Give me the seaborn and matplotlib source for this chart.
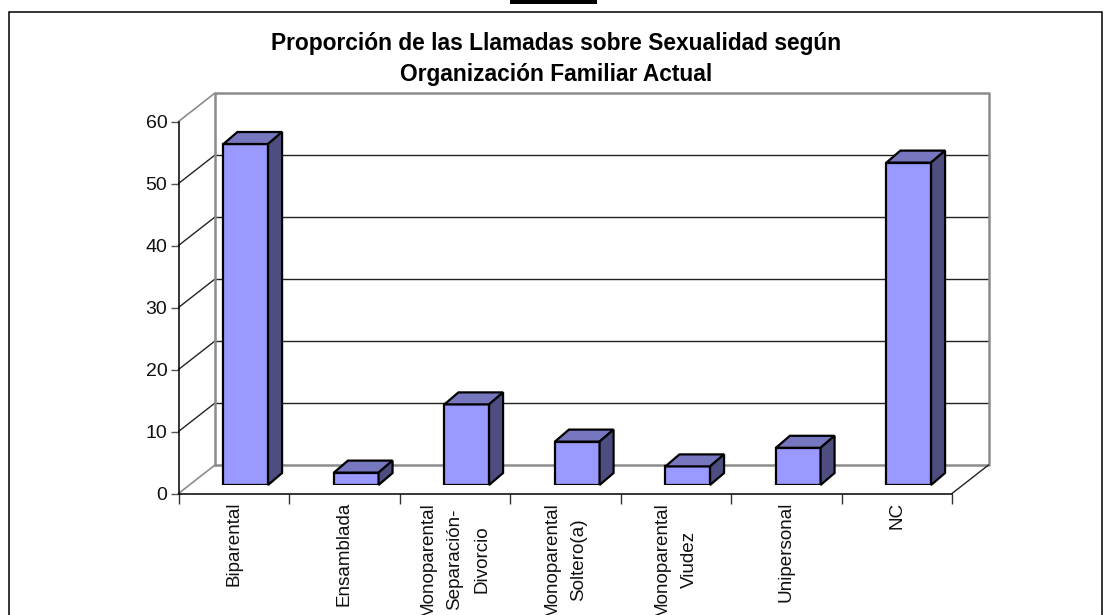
import matplotlib
matplotlib.use('Agg')
import matplotlib.pyplot as plt
from matplotlib.patches import Polygon, Rectangle
import pandas as pd
import seaborn as sns

categories = ['Biparental', 'Ensamblada', 'Monoparental\nSeparación-\nDivorcio',
              'Monoparental\nSoltero(a)', 'Monoparental\nViudez', 'Unipersonal', 'NC']
values = [55, 2, 13, 7, 3, 6, 52]
y_ticks = [0, 10, 20, 30, 40, 50, 60]
title = 'Proporción de las Llamadas sobre Sexualidad según\nOrganización Familiar Actual'

W, H = 1110, 615
FRONT = '#9999FF'
TOP = '#7777BF'
SIDE = '#4D4D80'
WALL = '#8C8C8C'

sns.set_style('white')
plt.rcParams['font.family'] = ['Liberation Sans', 'DejaVu Sans']

fig = plt.figure(figsize=(W / 100, H / 100), dpi=100)


def axes_box(x0, x1, y_bottom, y_top):
    return [x0 / W, 1 - y_bottom / H, (x1 - x0) / W, (y_bottom - y_top) / H]


# front plane of the fake 3d box
ax = fig.add_axes(axes_box(178.5, 952, 493.5, 121.5))
ax.set_xlim(-0.5, 6.5)
ax.set_ylim(0, 60)
ax.patch.set_alpha(0)

px_x = 7 / (952 - 178.5)
px_y = 60 / (493.5 - 121.5)
depth_x = 36.5 * px_x
depth_y = 28.5 * px_y

# bars live on a second axes, pushed a bit into the box
ax_bars = fig.add_axes(axes_box(178.5 + 12, 952 + 12, 493.5 - 8.5, 121.5 - 8.5))
df = pd.DataFrame({'cat': categories, 'val': values})
sns.barplot(data=df, x='cat', y='val', ax=ax_bars, color=FRONT, saturation=1,
            width=0.404, edgecolor='black', linewidth=1.6, zorder=3)
ax_bars.set_xlim(-0.5, 6.5)
ax_bars.set_ylim(0, 60)
ax_bars.axis('off')
ax_bars.patch.set_alpha(0)

bar_dx = 14 * px_x
bar_dy = 12 * px_y
for bar in ax_bars.patches:
    x0 = bar.get_x()
    x1 = x0 + bar.get_width()
    h = bar.get_height()
    ax_bars.add_patch(Polygon([(x0, h), (x1, h), (x1 + bar_dx, h + bar_dy), (x0 + bar_dx, h + bar_dy)],
                              facecolor=TOP, edgecolor='black', linewidth=1.6, clip_on=False, zorder=3))
    ax_bars.add_patch(Polygon([(x1, 0), (x1 + bar_dx, bar_dy), (x1 + bar_dx, h + bar_dy), (x1, h)],
                              facecolor=SIDE, edgecolor='black', linewidth=1.6, clip_on=False, zorder=3))

# back wall and floor
left = -0.5 + depth_x
right = 6.5 + depth_x
for v in y_ticks[1:-1]:
    ax.plot([left, right], [v + depth_y, v + depth_y], color='#222222', lw=1, clip_on=False, zorder=1)
    ax.plot([-0.5, left], [v, v + depth_y], color='#222222', lw=1, clip_on=False, zorder=1)
ax.plot([left, right, right, left, left],
        [depth_y, depth_y, 60 + depth_y, 60 + depth_y, depth_y],
        color=WALL, lw=1.8, clip_on=False, zorder=1)
ax.plot([-0.5, left], [0, depth_y], color=WALL, lw=1.2, clip_on=False, zorder=1)
ax.plot([-0.5, left], [60, 60 + depth_y], color=WALL, lw=1.2, clip_on=False, zorder=1)
ax.plot([6.5, right], [0, depth_y], color='#222222', lw=1, clip_on=False, zorder=1)

sns.despine(ax=ax)
ax.spines['left'].set_linewidth(1.1)
ax.spines['bottom'].set_linewidth(1.1)
ax.spines['left'].set_color('black')
ax.spines['bottom'].set_color('black')

ax.set_yticks(y_ticks)
ax.set_yticklabels([str(v) for v in y_ticks], fontsize=14, color='#111111')
ax.tick_params(axis='y', left=True, length=6, width=1, color='#555555', pad=2)

ax.set_xticks(range(len(categories)))
ax.set_xticklabels(categories, rotation=90, fontsize=13.6, ha='center', va='top',
                   multialignment='center', linespacing=1.75, color='#111111')
ax.set_xticks([i - 0.5 for i in range(len(categories) + 1)], minor=True)
ax.tick_params(axis='x', which='major', bottom=False, length=0, pad=6)
ax.tick_params(axis='x', which='minor', bottom=True, length=7, width=1, color='#333333')

fig.text(556.5 / W, 1 - 59 / H, title, ha='center', va='center', fontsize=16.4,
         fontweight='bold', linespacing=1.45, color='black')

# chart frame, runs off the bottom of the picture, and the black bar above it
fig.add_artist(Rectangle((8.5 / W, -0.05), (1102 - 8.5) / W, 1.05 - 12.5 / H, transform=fig.transFigure,
                         facecolor='none', edgecolor='black', linewidth=1.1))
fig.add_artist(Rectangle((510 / W, 1 - 4 / H), 87 / W, 4 / H, transform=fig.transFigure,
                         facecolor='black', edgecolor='none'))

plt.savefig('out.png', dpi=100)
plt.close()
